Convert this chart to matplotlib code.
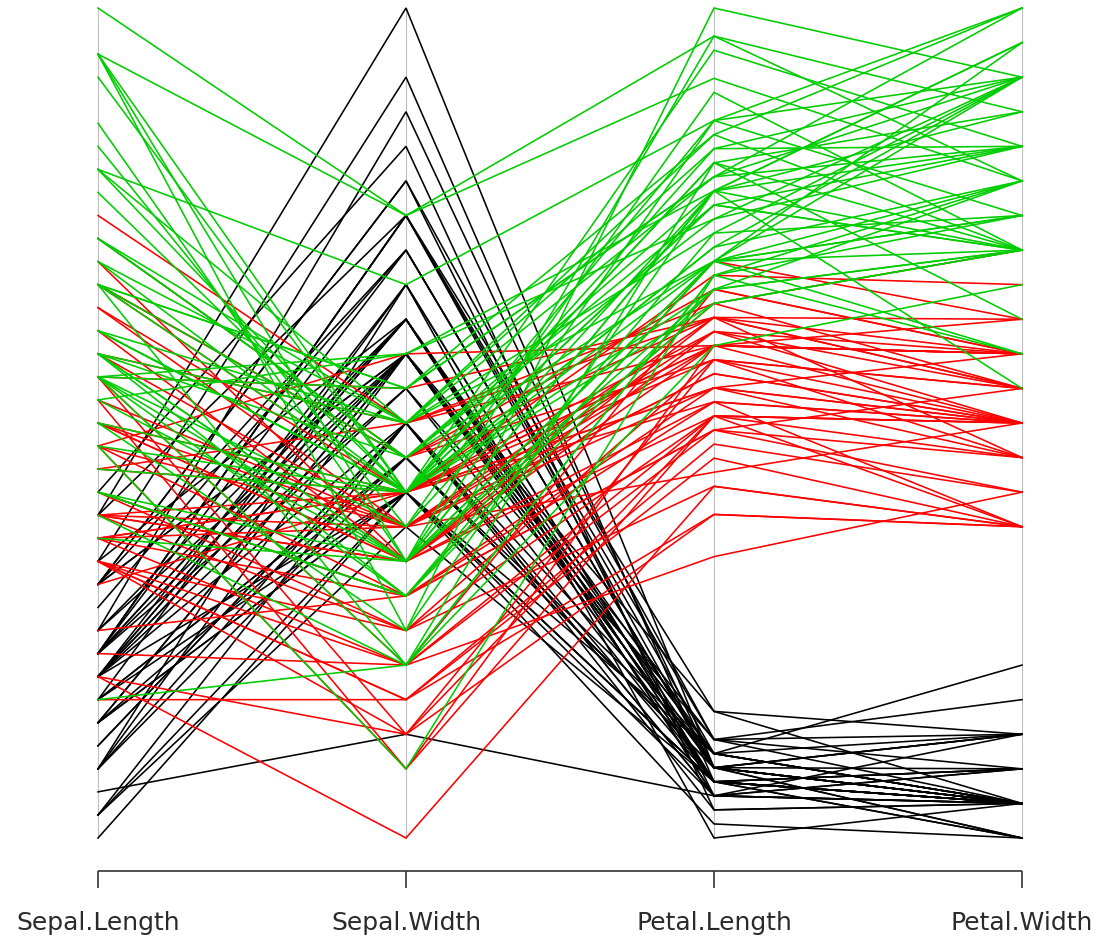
import matplotlib
matplotlib.use("Agg")
import matplotlib.pyplot as plt
import numpy as np

variables = ["Sepal.Length", "Sepal.Width", "Petal.Length", "Petal.Width"]

sepal_length = [
    5.1,4.9,4.7,4.6,5.0,5.4,4.6,5.0,4.4,4.9,5.4,4.8,4.8,4.3,5.8,5.7,5.4,5.1,5.7,5.1,
    5.4,5.1,4.6,5.1,4.8,5.0,5.0,5.2,5.2,4.7,4.8,5.4,5.2,5.5,4.9,5.0,5.5,4.9,4.4,5.1,
    5.0,4.5,4.4,5.0,5.1,4.8,5.1,4.6,5.3,5.0,
    7.0,6.4,6.9,5.5,6.5,5.7,6.3,4.9,6.6,5.2,5.0,5.9,6.0,6.1,5.6,6.7,5.6,5.8,6.2,5.6,
    5.9,6.1,6.3,6.1,6.4,6.6,6.8,6.7,6.0,5.7,5.5,5.5,5.8,6.0,5.4,6.0,6.7,6.3,5.6,5.5,
    5.5,6.1,5.8,5.0,5.6,5.7,5.7,6.2,5.1,5.7,
    6.3,5.8,7.1,6.3,6.5,7.6,4.9,7.3,6.7,7.2,6.5,6.4,6.8,5.7,5.8,6.4,6.5,7.7,7.7,6.0,
    6.9,5.6,7.7,6.3,6.7,7.2,6.2,6.1,6.4,7.2,7.4,7.9,6.4,6.3,6.1,7.7,6.3,6.4,6.0,6.9,
    6.7,6.9,5.8,6.8,6.7,6.7,6.3,6.5,6.2,5.9]
sepal_width = [
    3.5,3.0,3.2,3.1,3.6,3.9,3.4,3.4,2.9,3.1,3.7,3.4,3.0,3.0,4.0,4.4,3.9,3.5,3.8,3.8,
    3.4,3.7,3.6,3.3,3.4,3.0,3.4,3.5,3.4,3.2,3.1,3.4,4.1,4.2,3.1,3.2,3.5,3.6,3.0,3.4,
    3.5,2.3,3.2,3.5,3.8,3.0,3.8,3.2,3.7,3.3,
    3.2,3.2,3.1,2.3,2.8,2.8,3.3,2.4,2.9,2.7,2.0,3.0,2.2,2.9,2.9,3.1,3.0,2.7,2.2,2.5,
    3.2,2.8,2.5,2.8,2.9,3.0,2.8,3.0,2.9,2.6,2.4,2.4,2.7,2.7,3.0,3.4,3.1,2.3,3.0,2.5,
    2.6,3.0,2.6,2.3,2.7,3.0,2.9,2.9,2.5,2.8,
    3.3,2.7,3.0,2.9,3.0,3.0,2.5,2.9,2.5,3.6,3.2,2.7,3.0,2.5,2.8,3.2,3.0,3.8,2.6,2.2,
    3.2,2.8,2.8,2.7,3.3,3.2,2.8,3.0,2.8,3.0,2.8,3.8,2.8,2.8,2.6,3.0,3.4,3.1,3.0,3.1,
    3.1,3.1,2.7,3.2,3.3,3.0,2.5,3.0,3.4,3.0]
petal_length = [
    1.4,1.4,1.3,1.5,1.4,1.7,1.4,1.5,1.4,1.5,1.5,1.6,1.4,1.1,1.2,1.5,1.3,1.4,1.7,1.5,
    1.7,1.5,1.0,1.7,1.9,1.6,1.6,1.5,1.4,1.6,1.6,1.5,1.5,1.4,1.5,1.2,1.3,1.4,1.3,1.5,
    1.3,1.3,1.3,1.6,1.9,1.4,1.6,1.4,1.5,1.4,
    4.7,4.5,4.9,4.0,4.6,4.5,4.7,3.3,4.6,3.9,3.5,4.2,4.0,4.7,3.6,4.4,4.5,4.1,4.5,3.9,
    4.8,4.0,4.9,4.7,4.3,4.4,4.8,5.0,4.5,3.5,3.8,3.7,3.9,5.1,4.5,4.5,4.7,4.4,4.1,4.0,
    4.4,4.6,4.0,3.3,4.2,4.2,4.2,4.3,3.0,4.1,
    6.0,5.1,5.9,5.6,5.8,6.6,4.5,6.3,5.8,6.1,5.1,5.3,5.5,5.0,5.1,5.3,5.5,6.7,6.9,5.0,
    5.7,4.9,6.7,4.9,5.7,6.0,4.8,4.9,5.6,5.8,6.1,6.4,5.6,5.1,5.6,6.1,5.6,5.5,4.8,5.4,
    5.6,5.1,5.1,5.9,5.7,5.2,5.0,5.2,5.4,5.1]
petal_width = [
    0.2,0.2,0.2,0.2,0.2,0.4,0.3,0.2,0.2,0.1,0.2,0.2,0.1,0.1,0.2,0.4,0.4,0.3,0.3,0.3,
    0.2,0.4,0.2,0.5,0.2,0.2,0.4,0.2,0.2,0.2,0.2,0.4,0.1,0.2,0.2,0.2,0.2,0.1,0.2,0.2,
    0.3,0.3,0.2,0.6,0.4,0.3,0.2,0.2,0.2,0.2,
    1.4,1.5,1.5,1.3,1.5,1.3,1.6,1.0,1.3,1.4,1.0,1.5,1.0,1.4,1.3,1.4,1.5,1.0,1.5,1.1,
    1.8,1.3,1.5,1.2,1.3,1.4,1.4,1.7,1.5,1.0,1.1,1.0,1.2,1.6,1.5,1.6,1.5,1.3,1.3,1.3,
    1.2,1.4,1.2,1.0,1.3,1.2,1.3,1.3,1.1,1.3,
    2.5,1.9,2.1,1.8,2.2,2.1,1.7,1.8,1.8,2.5,2.0,1.9,2.1,2.0,2.4,2.3,1.8,2.2,2.3,1.5,
    2.3,2.0,2.0,1.8,2.1,1.8,1.8,1.8,2.1,1.6,1.9,2.0,2.2,1.5,1.4,2.3,2.4,1.8,1.8,2.1,
    2.4,2.3,1.9,2.3,2.5,2.3,1.9,2.0,2.3,1.8]
species = ["setosa"] * 50 + ["versicolor"] * 50 + ["virginica"] * 50
species_colors = {"setosa": "#000000", "versicolor": "#FF0000", "virginica": "#00CD00"}

data = np.array([sepal_length, sepal_width, petal_length, petal_width], dtype=float).T
mins = data.min(axis=0)
maxs = data.max(axis=0)
scaled = (data - mins) / (maxs - mins)

W, H = 1102, 941
fig = plt.figure(figsize=(W / 100, H / 100), dpi=100)
ax = fig.add_axes([0, 0, 1, 1])
ax.set_axis_off()

x0, x3 = 98, 1022
ytop, ybot = 8, 838
unit = (x3 - x0) / 3.0
ax.set_xlim(-x0 / unit, 3 + (W - x3) / unit)
yscale = (ybot - ytop)
ax.set_ylim(-(H - ybot) / yscale, 1 + ytop / yscale)

xs = np.arange(len(variables))
for i in range(xs.size):
    ax.plot([xs[i], xs[i]], [0, 1], color="#BEBEBE", lw=0.8, zorder=0)

for row, sp in zip(scaled, species):
    ax.plot(xs, row, color=species_colors[sp], lw=1.15, solid_joinstyle="miter", zorder=2)

# bottom axis
ybase = -(871 - ybot) / yscale
ytick = -(888 - ybot) / yscale
ax.plot([xs[0], xs[-1]], [ybase, ybase], color="#333333", lw=1.2, solid_capstyle="butt")
for x in xs:
    ax.plot([x, x], [ybase, ytick], color="#333333", lw=1.2, solid_capstyle="butt")
ylab = -(923 - ybot) / yscale
for x, name in zip(xs, variables):
    ax.text(x, ylab, name, ha="center", va="center", fontsize=18,
            family="DejaVu Sans", color="#2a2a2a")

fig.savefig("out.png", dpi=100)
